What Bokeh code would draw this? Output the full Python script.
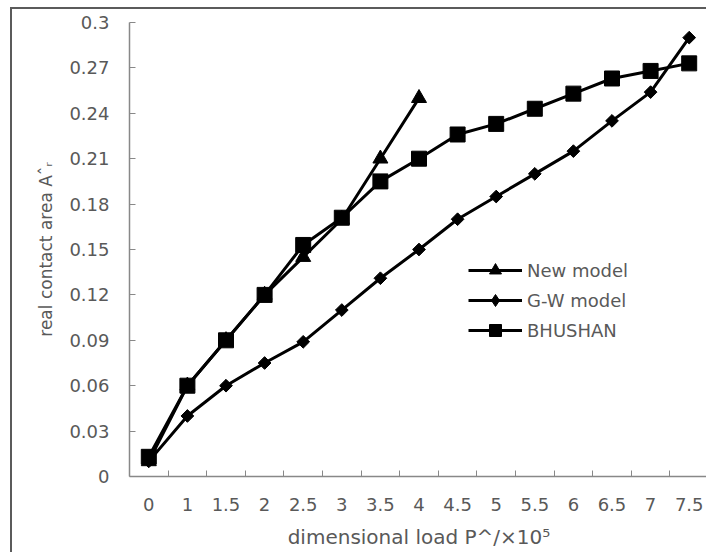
from bokeh.plotting import figure
from bokeh.models import Range1d, FixedTicker, Legend, LegendItem
from bokeh.embed import file_html
from bokeh.resources import INLINE
import math

# ---- data ----
categories = ["0", "1", "1.5", "2", "2.5", "3", "3.5", "4", "4.5", "5",
              "5.5", "6", "6.5", "7", "7.5"]
new_model = [0.010, 0.060, 0.090, 0.120, 0.145, 0.170, 0.210, 0.250]
gw_model = [0.010, 0.040, 0.060, 0.075, 0.089, 0.110, 0.131, 0.150, 0.170,
            0.185, 0.200, 0.215, 0.235, 0.254, 0.290]
bhushan = [0.013, 0.060, 0.090, 0.120, 0.153, 0.171, 0.195, 0.210, 0.226,
           0.233, 0.243, 0.253, 0.263, 0.268, 0.273]
y_ticks = [0, 0.03, 0.06, 0.09, 0.12, 0.15, 0.18, 0.21, 0.24, 0.27, 0.3]
y_tick_labels = ["0", "0.03", "0.06", "0.09", "0.12", "0.15", "0.18",
                 "0.21", "0.24", "0.27", "0.3"]
series_names = ["New model", "G-W model", "BHUSHAN"]

FONT = "DejaVu Sans"
GRAY_TXT = "#595959"
AXIS_COL = "#888888"

# category slots: each category sits at the centre of a unit-wide slot
x_centers = [i + 0.5 for i in range(len(categories))]
x_bounds = list(range(1, len(categories)))

p = figure(width=696, height=545, output_backend="svg", toolbar_location=None,
           x_range=Range1d(0, len(categories)), y_range=Range1d(0, 0.3),
           min_border_left=117, min_border_right=0, min_border_top=13,
           min_border_bottom=78)
p.outline_line_color = None
p.xgrid.grid_line_color = None
p.ygrid.grid_line_color = None
p.background_fill_color = "white"
p.border_fill_color = "white"
# outer chart border (only left and top edges are visible in the reference)
p.styles = {"margin-left": "10px", "margin-top": "7px",
            "border-left": "2px solid #5b5b5b",
            "border-top": "2px solid #5b5b5b"}

# x axis
xa = p.xaxis[0]
xa.ticker = FixedTicker(ticks=x_centers, minor_ticks=x_bounds)
xa.major_label_overrides = {x: c for x, c in zip(x_centers, categories)}
xa.major_tick_line_color = None
xa.minor_tick_in = 6
xa.minor_tick_out = 0
xa.minor_tick_line_color = AXIS_COL
xa.minor_tick_line_width = 1
xa.axis_line_color = AXIS_COL
xa.axis_line_width = 1.5
xa.major_label_standoff = 15
xa.major_label_text_font = FONT
xa.major_label_text_font_size = "18px"
xa.major_label_text_color = GRAY_TXT
xa.axis_label = "dimensional load P^/\u00d710\u2075"
xa.axis_label_text_font = FONT
xa.axis_label_text_font_size = "20px"
xa.axis_label_text_font_style = "normal"
xa.axis_label_text_color = GRAY_TXT
xa.axis_label_standoff = 11

# y axis
ya = p.yaxis[0]
ya.ticker = FixedTicker(ticks=y_ticks)
ya.major_label_overrides = {t: l for t, l in zip(y_ticks, y_tick_labels)}
ya.major_tick_in = 6
ya.major_tick_out = 0
ya.minor_tick_line_color = None
ya.major_tick_line_color = AXIS_COL
ya.axis_line_color = AXIS_COL
ya.axis_line_width = 1.5
ya.major_label_standoff = 20
ya.major_label_text_font = FONT
ya.major_label_text_font_size = "18px"
ya.major_label_text_color = GRAY_TXT
ya.axis_label = "real contact area A\u02c6\u1d63"
ya.axis_label_text_font = FONT
ya.axis_label_text_font_size = "17px"
ya.axis_label_text_font_style = "normal"
ya.axis_label_text_color = GRAY_TXT
ya.axis_label_standoff = 10

# series (BHUSHAN drawn last, on top)
LW = 3
r_nm_l = p.line(x_centers[:len(new_model)], new_model, line_color="black", line_width=LW)
r_nm_m = p.scatter(x_centers[:len(new_model)], new_model, marker="triangle", size=15,
                   fill_color="black", line_color="black")
r_gw_l = p.line(x_centers[:len(gw_model)], gw_model, line_color="black", line_width=LW)
# legend-only diamond (hidden under the rotated squares in the plot)
r_gw_leg = p.scatter(x_centers[:len(gw_model)], gw_model, marker="diamond", size=1,
                     fill_color="black", line_color="black")
r_gw_m = p.scatter(x_centers[:len(gw_model)], gw_model, marker="square", size=9,
                   angle=math.pi / 4, fill_color="black", line_color="black")
r_bh_l = p.line(x_centers[:len(bhushan)], bhushan, line_color="black", line_width=LW)
r_bh_m = p.scatter(x_centers[:len(bhushan)], bhushan, marker="square", size=15,
                   fill_color="black", line_color="black")

legend = Legend(items=[
    LegendItem(label=series_names[0], renderers=[r_nm_l, r_nm_m]),
    LegendItem(label=series_names[1], renderers=[r_gw_l, r_gw_leg]),
    LegendItem(label=series_names[2], renderers=[r_bh_l, r_bh_m]),
], location=(339, 131))
legend.border_line_color = None
legend.background_fill_alpha = 0
legend.padding = 0
legend.margin = 0
legend.glyph_width = 54
legend.glyph_height = 30
legend.label_height = 30
legend.spacing = 0
legend.label_standoff = 5
legend.label_text_font = FONT
legend.label_text_font_size = "18px"
legend.label_text_color = GRAY_TXT
p.add_layout(legend)

open("out.html", "w").write(file_html(p, INLINE))
